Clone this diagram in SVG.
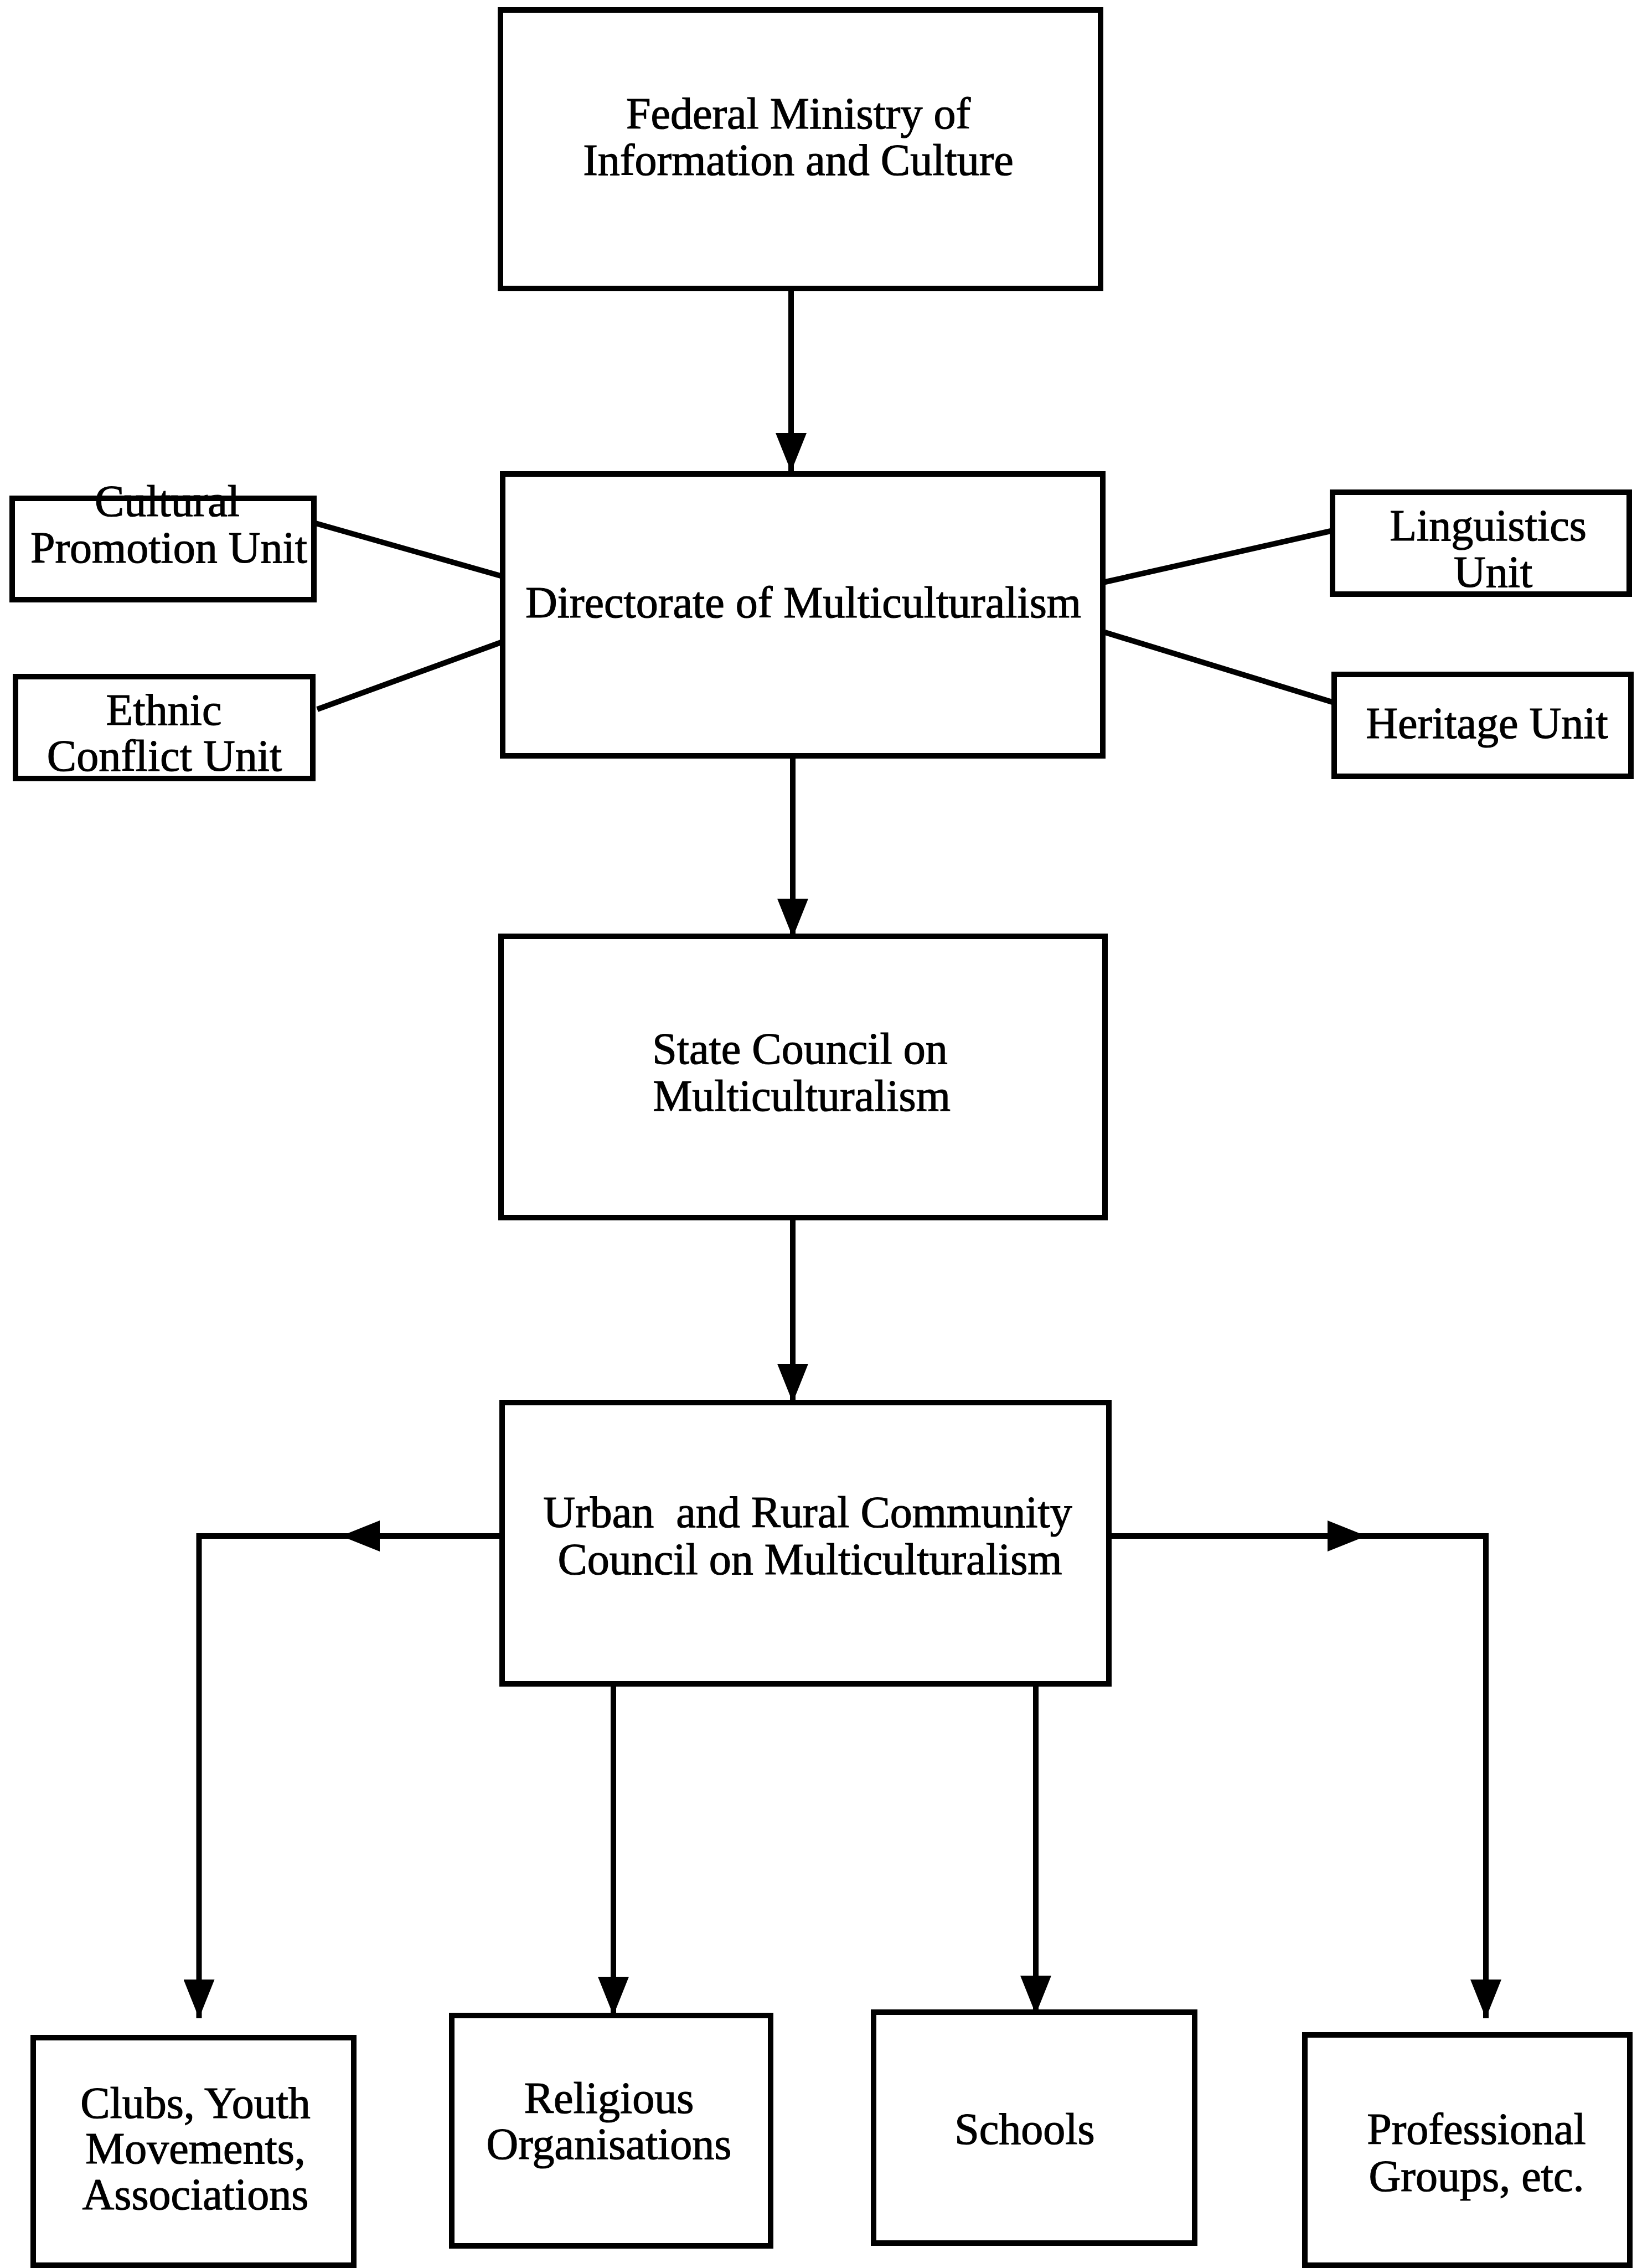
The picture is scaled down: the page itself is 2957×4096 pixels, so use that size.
<svg xmlns="http://www.w3.org/2000/svg" width="2957" height="4096" viewBox="0 0 2957 4096">
<style>
.box{fill:#fff;stroke:#000;stroke-width:10}
.ln{fill:none;stroke:#000;stroke-width:10}
.t{font-family:"Liberation Serif","Times New Roman",serif;font-size:80px;fill:#000;stroke:#000;stroke-width:1.2;text-anchor:middle;white-space:pre}
</style>
<defs>
<marker id="arr" viewBox="0 0 70 56" refX="70" refY="28" markerWidth="70" markerHeight="56" orient="auto" markerUnits="userSpaceOnUse">
<path d="M0,0 L70,28 L0,56 Z" fill="#000"/>
</marker>
</defs>
<rect width="2957" height="4096" fill="#fff"/>
<g id="connectors">
<path class="ln" d="M1429,521 L1429,852" marker-end="url(#arr)"/>
<path class="ln" d="M1432,1365 L1432,1693" marker-end="url(#arr)"/>
<path class="ln" d="M1432,2199 L1432,2533" marker-end="url(#arr)"/>
<path class="ln" d="M570,945 L908,1041"/>
<path class="ln" d="M573,1281 L908,1159"/>
<path class="ln" d="M1992,1052 L2426,954"/>
<path class="ln" d="M1996,1142 L2436,1277"/>
<path class="ln" d="M907,2774 L359.5,2774 L359.5,3645" marker-end="url(#arr)"/>
<path class="ln" d="M700,2774 L616,2774" marker-end="url(#arr)"/>
<path class="ln" d="M2003,2774 L2684,2774 L2684,3645" marker-end="url(#arr)"/>
<path class="ln" d="M2300,2774 L2468,2774" marker-end="url(#arr)"/>
<path class="ln" d="M1108,3041 L1108,3640" marker-end="url(#arr)"/>
<path class="ln" d="M1871,3041 L1871,3638" marker-end="url(#arr)"/>
</g>
<g id="federal-ministry">
<rect class="box" x="904" y="18" width="1084" height="503"/>
<text class="t" x="1442" y="232">Federal Ministry of</text>
<text class="t" x="1442" y="316">Information and Culture</text>
</g>
<g id="directorate">
<rect class="box" x="908" y="856" width="1084" height="509"/>
<text class="t" x="1451" y="1115">Directorate of Multiculturalism</text>
</g>
<g id="cultural-promotion">
<rect class="box" x="22" y="900" width="545" height="183"/>
<text class="t" x="302" y="932">Cultural</text>
<text class="t" x="305" y="1016">Promotion Unit</text>
</g>
<g id="ethnic-conflict">
<rect class="box" x="28" y="1222" width="537" height="184"/>
<text class="t" x="296" y="1309">Ethnic</text>
<text class="t" x="297" y="1392">Conflict Unit</text>
</g>
<g id="linguistics">
<rect class="box" x="2407" y="889" width="536" height="184"/>
<text class="t" x="2688" y="976">Linguistics</text>
<text class="t" x="2697" y="1060">Unit</text>
</g>
<g id="heritage">
<rect class="box" x="2410" y="1218" width="536" height="184"/>
<text class="t" x="2686" y="1333">Heritage Unit</text>
</g>
<g id="state-council">
<rect class="box" x="905" y="1691" width="1091" height="508"/>
<text class="t" x="1445" y="1921">State Council on</text>
<text class="t" x="1448" y="2006">Multiculturalism</text>
</g>
<g id="urban-rural">
<rect class="box" x="907" y="2533" width="1096" height="508"/>
<text class="t" x="1459" y="2758">Urban  and Rural Community</text>
<text class="t" x="1463" y="2843">Council on Multiculturalism</text>
</g>
<g id="clubs">
<rect class="box" x="60" y="3680" width="579" height="411"/>
<text class="t" x="353" y="3825">Clubs, Youth</text>
<text class="t" x="353" y="3907">Movements,</text>
<text class="t" x="353" y="3990">Associations</text>
</g>
<g id="religious">
<rect class="box" x="816" y="3640" width="576" height="416"/>
<text class="t" x="1100" y="3816">Religious</text>
<text class="t" x="1100" y="3899">Organisations</text>
</g>
<g id="schools">
<rect class="box" x="1578" y="3634" width="580" height="417"/>
<text class="t" x="1851" y="3872">Schools</text>
</g>
<g id="professional">
<rect class="box" x="2357" y="3675" width="587" height="416"/>
<text class="t" x="2667" y="3872">Professional</text>
<text class="t" x="2667" y="3957">Groups, etc.</text>
</g>
</svg>
